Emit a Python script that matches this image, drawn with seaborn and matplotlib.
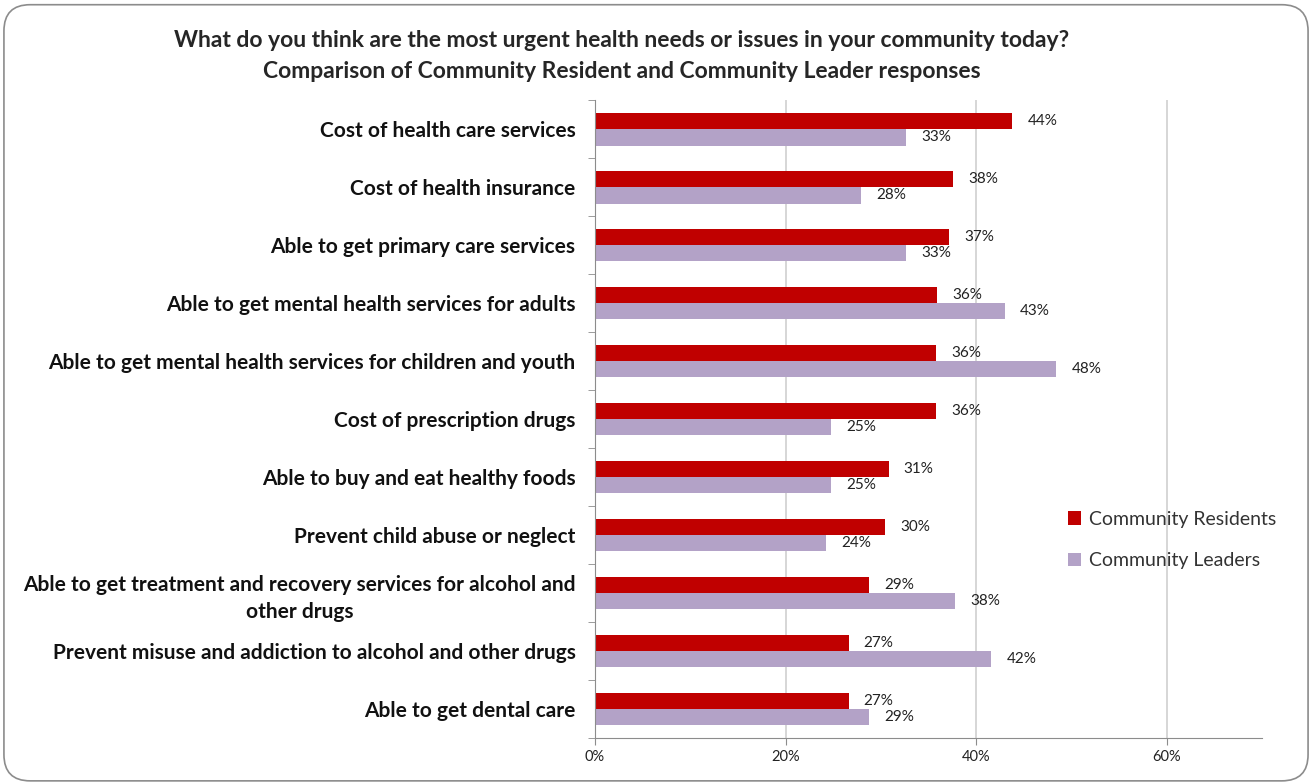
"""
Urgent health needs: community residents vs community leaders.
"""

import matplotlib.pyplot as plt
import seaborn as sns
import pandas as pd
from matplotlib.patches import FancyBboxPatch
from matplotlib.ticker import FuncFormatter, FixedLocator


categories = [
    "Cost of health care services",
    "Cost of health insurance",
    "Able to get primary care services",
    "Able to get mental health services for adults",
    "Able to get mental health services for children and youth",
    "Cost of prescription drugs",
    "Able to buy and eat healthy foods",
    "Prevent child abuse or neglect",
    "Able to get treatment and recovery services for alcohol and\nother drugs",
    "Prevent misuse and addiction to alcohol and other drugs",
    "Able to get dental care",
]
residents = [43.8, 37.6, 37.1, 35.9, 35.8, 35.8, 30.8, 30.4, 28.8, 26.6, 26.6]
leaders = [32.6, 27.9, 32.6, 43.0, 48.4, 24.8, 24.8, 24.2, 37.8, 41.6, 28.7]
groups = ["Community Residents", "Community Leaders"]

COLORS = {"Community Residents": "#C00000", "Community Leaders": "#B3A2C7"}

df = pd.DataFrame({
    "need": categories * 2,
    "pct": residents + leaders,
    "group": [groups[0]] * len(categories) + [groups[1]] * len(categories),
})

sns.set_style("white")
plt.rcParams["font.family"] = ["Lato", "DejaVu Sans"]

fig = plt.figure(figsize=(13.12, 7.84), dpi=100)
ax = fig.add_axes([0.4535, 0.0587, 0.962 - 0.4535, 0.872 - 0.0587])

sns.barplot(data=df, y="need", x="pct", hue="group", hue_order=groups,
            palette=COLORS, orient="h", width=0.56, gap=0, ax=ax,
            saturation=1, edgecolor="none")

for cont in ax.containers:
    ax.bar_label(cont, labels=[f"{v:.0f}%" for v in cont.datavalues],
                 padding=11, fontsize=11, color="#222222")

ax.set_xlim(0, 70)
ax.xaxis.set_major_locator(FixedLocator([0, 20, 40, 60]))
ax.xaxis.set_major_formatter(FuncFormatter(lambda v, p: f"{v:.0f}%"))
ax.grid(axis="x", color="#CFCFCF", linewidth=1.2)
ax.set_axisbelow(True)
ax.set_xlabel("")
ax.set_ylabel("")

for side in ["top", "right"]:
    ax.spines[side].set_visible(False)
for side in ["left", "bottom"]:
    ax.spines[side].set_color("#8C8C8C")
ax.tick_params(axis="x", length=5, color="#8C8C8C", labelsize=10.5, bottom=True,
               direction="out", labelcolor="#222222")
ax.tick_params(axis="y", length=0, labelsize=15, pad=14)
ax.set_yticks(range(len(categories)))
ax.set_yticklabels(categories, fontweight="bold", color="#111111",
                   multialignment="center", linespacing=1.45)
ax.set_yticks([i - 0.5 for i in range(len(categories) + 1)], minor=True)
ax.tick_params(axis="y", which="minor", length=5, color="#8C8C8C", left=True)

leg = ax.legend(loc="center left", bbox_to_anchor=(1050 / 1312, 0.311),
                bbox_transform=fig.transFigure, frameon=False, fontsize=14,
                handlelength=0.7, handleheight=0.7, handletextpad=0.4,
                labelspacing=1.25)
for t in leg.get_texts():
    t.set_color("#333333")

fig.text(0.474, 0.948, "What do you think are the most urgent health needs or issues in your community today?",
         ha="center", va="center", fontsize=16.5, fontweight="bold")
fig.text(0.474, 0.909, "Comparison of Community Resident and Community Leader responses",
         ha="center", va="center", fontsize=16.5, fontweight="bold")

border = FancyBboxPatch((0.003, 0.004), 0.994, 0.99, boxstyle="round,pad=0,rounding_size=0.02",
                        transform=fig.transFigure, fill=False, edgecolor="#8C8C8C",
                        linewidth=1.2, mutation_aspect=1312 / 784)
fig.add_artist(border)

fig.savefig("out.png", dpi=100)
